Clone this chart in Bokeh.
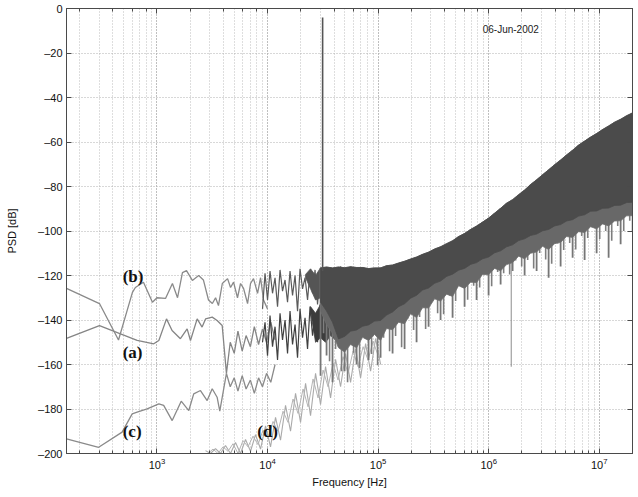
from bokeh.plotting import figure
from bokeh.models import (Range1d, LogAxis, LinearAxis, FixedTicker, LogTicker,
                          CustomJSTickFormatter, Label)
from bokeh.embed import file_html
from bokeh.resources import INLINE

# ---------------- data ----------------
y_ticks = [-200, -180, -160, -140, -120, -100, -80, -60, -40, -20, 0]

# curve (b) low-frequency part
b_f = [152, 302, 449, 600, 638, 755, 910, 1000, 1195, 1380, 1535, 1700, 1850, 2090, 2385,
       2630, 2925, 3170, 3390, 3600, 3900, 4350, 4630, 4930, 5350, 5700, 6070, 6600, 7020,
       7470, 8130, 8650, 9200, 10000]
b_db = [-125.8, -132.6, -149.0, -127.6, -125.4, -123.0, -132.0, -130.0, -130.3, -123.6, -130.0,
        -118.7, -117.8, -122.2, -120.0, -122.0, -131.0, -132.6, -130.0, -133.5, -123.6, -121.4,
        -125.4, -123.0, -130.0, -123.6, -125.8, -132.6, -123.6, -121.4, -128.0, -121.0, -131.0,
        -135.0]

# curve (a)
a_f = [152, 302, 468, 662, 935, 1040, 1220, 1370, 1630, 1875, 2010, 2310, 2560, 2750, 3160,
       3500, 3890, 4250, 4600, 5000, 5400, 5900, 6400, 7000, 7600, 8300, 9000, 9800, 10700, 11700]
a_db = [-148.3, -142.5, -146.2, -149.2, -150.7, -149.2, -139.5, -144.7, -148.4, -144.0, -149.2,
        -139.5, -143.2, -139.5, -138.7, -140.2, -142.5, -164.0, -150.0, -155.0, -145.0, -154.0,
        -147.0, -152.0, -143.0, -151.0, -144.0, -150.0, -141.0, -149.0]

# curve (c)
c_f = [152, 297, 484, 597, 662, 815, 1040, 1150, 1373, 1657, 1940, 2150, 2475, 2845, 3160,
       3500, 3700, 4250, 4600, 5000, 5400, 5900, 6400, 7000, 7600, 8300, 9000, 9800, 10700, 11700]
c_db = [-193.4, -197.2, -190.4, -182.2, -181.4, -179.9, -177.7, -178.4, -185.2, -176.5, -180.7,
        -173.2, -171.7, -176.2, -170.9, -174.7, -181.0, -164.0, -170.0, -166.0, -172.0, -165.0,
        -171.0, -167.0, -173.0, -166.0, -170.0, -164.0, -168.0, -160.0]

# curve (d), read on two interleaved frequency sets
d_f = [2748, 3050, 3383, 3755, 4168, 4626, 5134, 5697, 6324, 7018, 7789, 8644, 9592, 10645,
       11815, 13110, 14552, 16150, 17925, 19890, 22080, 24500, 27190, 30180, 33490, 37170,
       41250, 45780, 50810, 56390, 62580, 69450, 77080, 85540, 94940, 105400]
d_db = [-198.7, -200.0, -197.8, -200.0, -196.4, -200.0, -195.1, -200.0, -193.7, -199.0, -191.5,
        -198.0, -187.6, -197.0, -183.8, -194.0, -178.4, -190.0, -173.0, -186.0, -168.5, -183.0,
        -164.0, -178.0, -160.9, -175.0, -157.7, -170.0, -155.1, -168.0, -152.8, -166.0, -150.6,
        -163.0, -148.3, -160.0]
d2_f = [2894, 3212, 3565, 3956, 4391, 4873, 5408, 6002, 6661, 7393, 8204, 9106, 10104, 11214,
        12445, 13813, 15329, 17014, 18880, 20956, 23256, 25812, 28644, 31788, 35278, 39155,
        43451, 48226, 53516, 59397, 65914, 73158, 81183, 90110, 100000]
d2_db = [-200.0, -198.0, -200.0, -197.0, -199.0, -195.6, -200.0, -194.2, -197.0, -192.2, -196.0,
         -189.5, -193.0, -185.6, -190.0, -181.0, -186.0, -175.5, -182.0, -171.0, -179.0, -166.5,
         -175.0, -162.5, -170.0, -159.5, -167.0, -156.5, -164.0, -154.0, -161.0, -152.0, -158.0,
         -149.5, -156.0]

# dense noise of (b) and (a) between 9 kHz and 37 kHz
noise_f = [9010, 9493, 10000, 10534, 11097, 11693, 12318, 12978, 13669, 14403, 15171, 15981,
           16837, 17741, 18683, 19681, 20734, 21847, 23014, 24240, 25537, 26911, 28344, 29862,
           31457, 33144, 34914, 36777]
bnoise_db = [-135.0, -119.0, -131.0, -118.0, -128.0, -121.0, -134.0, -117.5, -127.0, -122.0,
             -132.0, -118.0, -129.0, -120.0, -136.0, -117.0, -126.0, -121.0, -131.0, -118.0,
             -128.0, -117.5, -133.0, -119.0, -127.0, -117.0, -130.0, -118.0]
anoise_db = [-150.0, -141.0, -156.0, -138.0, -152.0, -143.0, -158.0, -137.0, -149.0, -140.0,
             -155.0, -136.0, -151.0, -142.0, -157.0, -135.0, -148.0, -139.0, -153.0, -134.0,
             -147.0, -138.0, -150.0, -133.0, -146.0, -136.0, -149.0, -132.0]

# noise bands of (b) and (a) up to 100 kHz
bandb_f = [22080, 24500, 27190, 30180, 33490, 37170, 41250, 45780, 50810, 56390, 62580, 69450,
           77080, 85540, 94940, 105400]
bandb_top = [-119.5, -117.0, -120.0, -116.5, -119.0, -116.5, -118.5, -116.0, -118.0, -116.5,
             -118.5, -116.5, -118.0, -117.0, -117.5, -116.5]
bandb_bot = [-121.0, -126.0, -131.0, -130.0, -134.0, -131.0, -136.0, -132.0, -135.0, -131.0,
             -134.0, -132.0, -135.0, -131.0, -133.0, -130.0]
banda_f = [24500, 27190, 30180, 33490, 37170, 41250, 45780, 50810, 56390, 62580, 69450, 77080,
           85540, 94940, 105400]
banda_top = [-134.0, -137.0, -133.0, -135.0, -132.0, -134.0, -131.0, -133.0, -130.0, -132.0,
             -129.0, -131.0, -128.0, -130.0, -128.0]
banda_bot = [-136.0, -150.0, -148.0, -150.0, -147.0, -149.0, -146.0, -147.0, -145.0, -146.0,
             -143.0, -144.0, -142.0, -142.0, -140.0]

# the broad band above 30 kHz: upper edge, solid lower edge, grey fringe, lower spikes
main_f = [30180, 34200, 38700, 43900, 49800, 56400, 63900, 72400, 82000, 92900, 105300, 119300,
          135200, 153200, 173600, 196700, 222900, 252600, 286200, 324300, 367400, 416400, 471800,
          534600, 605800, 686500, 777900, 881400, 998700, 1132000, 1283000, 1453000, 1647000,
          1866000, 2115000, 2396000, 2715000, 3077000, 3486000, 3950000, 4476000, 5072000,
          5747000, 6512000, 7379000, 8361000, 9474000, 10735000, 12164000, 13783000, 15618000,
          17697000, 20053000]
main_top = [-116.6, -116.2, -116.6, -116.2, -116.5, -116.1, -116.4, -116.4, -116.9, -116.6,
            -116.6, -115.6, -115.3, -114.4, -113.6, -112.6, -111.7, -110.5, -109.5, -108.1,
            -107.1, -105.7, -104.4, -102.5, -101.1, -99.3, -97.8, -96.0, -94.2, -92.0, -89.8,
            -87.5, -85.9, -83.7, -81.6, -79.1, -77.0, -74.7, -72.5, -70.2, -68.1, -65.8, -63.7,
            -61.4, -59.6, -57.8, -56.2, -54.4, -52.8, -51.1, -49.8, -48.2, -46.9]
main_bot = [-132.0, -136.0, -141.0, -148.5, -147.4, -145.0, -144.5, -142.8, -142.2, -140.5,
            -140.2, -137.8, -136.4, -134.0, -132.7, -130.2, -128.9, -126.5, -125.6, -123.5,
            -122.5, -120.4, -119.4, -117.6, -116.8, -115.0, -114.2, -112.5, -111.7, -109.8,
            -108.9, -107.1, -106.2, -104.3, -103.5, -102.0, -101.4, -99.9, -99.3, -97.7, -97.1,
            -95.5, -94.9, -93.3, -92.7, -91.1, -91.0, -89.8, -89.7, -88.5, -88.4, -87.2, -87.1]
mid_bot = [-136.0, -142.0, -146.0, -152.5, -154.4, -151.0, -152.5, -147.8, -149.2, -146.5,
           -149.2, -143.8, -144.4, -141.0, -141.7, -137.2, -138.9, -134.5, -134.6, -130.5,
           -131.5, -128.4, -129.4, -124.6, -125.8, -123.0, -123.2, -119.5, -119.7, -116.8,
           -117.9, -115.1, -114.2, -111.3, -112.5, -110.0, -109.4, -106.9, -108.3, -105.7,
           -105.1, -102.5, -102.9, -100.3, -100.7, -98.1, -99.0, -96.8, -97.7, -95.5, -95.4,
           -93.2, -93.1]
spike_bot = [-165.0, -156.0, -168.0, -152.0, -163.0, -150.0, -160.0, -147.0, -158.0, -146.0,
             -157.0, -142.0, -155.0, -140.0, -153.0, -134.0, -150.0, -131.0, -143.0, -128.0,
             -140.0, -125.0, -139.0, -122.0, -134.0, -120.0, -131.0, -117.0, -129.0, -115.0,
             -124.0, -112.0, -118.0, -110.0, -120.0, -107.0, -118.0, -105.0, -121.0, -103.0,
             -116.0, -101.0, -112.0, -99.0, -113.0, -97.0, -110.0, -95.0, -112.0, -94.0,
             -106.0, -92.0, -100.0]
spike2_f = [32130, 36400, 41250, 46740, 52970, 60020, 68010, 77080, 87330, 98970, 112150, 127080,
            144000, 163180, 184920, 209530, 237440, 269100, 304900, 345500, 391500, 443700,
            502800, 569700, 645600, 731600, 829000, 939500, 1064500, 1206300, 1366900, 1548800,
            1755200, 1988900, 2253700, 2553900, 2894000, 3279000, 3716000, 4211000, 4772000,
            5408000, 6128000, 6944000, 7869000, 8917000, 10104000, 11449000, 12975000, 14703000,
            16660000, 18880000]
spike2_top = [-125.0, -125.0, -128.0, -130.0, -130.0, -130.0, -130.0, -130.0, -128.0, -128.0,
              -126.0, -125.0, -124.0, -122.0, -120.0, -118.0, -117.0, -116.0, -115.0, -113.0,
              -112.0, -110.0, -109.0, -108.0, -106.0, -105.0, -104.0, -103.0, -101.0, -100.0,
              -99.0, -97.0, -96.0, -95.0, -94.0, -93.0, -92.0, -91.0, -90.0, -89.0, -88.0,
              -87.0, -86.0, -85.0, -84.0, -83.0, -82.0, -81.0, -80.0, -79.0, -78.0, -77.0]
spike2_bot = [-146.0, -158.5, -153.0, -163.0, -168.0, -154.7, -161.6, -148.5, -155.3, -160.3,
              -148.0, -154.0, -147.2, -152.3, -139.4, -144.5, -138.7, -144.0, -131.8, -137.0,
              -137.4, -129.0, -131.5, -125.2, -130.9, -124.6, -125.4, -119.1, -124.8, -118.4,
              -119.0, -119.6, -113.3, -116.0, -113.0, -116.9, -109.9, -112.8, -114.7, -105.6,
              -108.5, -105.4, -108.3, -102.2, -103.2, -98.3, -103.6, -100.0, -104.4, -97.7,
              -100.0, -95.4]

# isolated lines: the carrier near 31.5 kHz and one deep dip near 1.6 MHz
tone_f = [31500]
tone_top = [-4.0]
tone_bot = [-118.0]
dip_f = [1600000]
dip_top = [-108.0]
dip_bot = [-161.0]

# ---------------- figure ----------------
p = figure(x_axis_type="log", x_range=Range1d(152, 2.0e7), y_range=Range1d(-200, 0),
           frame_width=566, frame_height=445,
           min_border_left=66, min_border_right=6, min_border_top=8, min_border_bottom=44,
           output_backend="svg", toolbar_location=None,
           background_fill_color="white", border_fill_color="white")

AXC = "#4a4a4a"
FONT = "Liberation Sans"

for ax in p.xaxis:
    ax.axis_label = "Frequency [Hz]"
for ax in p.yaxis:
    ax.axis_label = "PSD [dB]"
    ax.ticker = FixedTicker(ticks=y_ticks)
    ax.formatter = CustomJSTickFormatter(
        code="return tick < 0 ? '\\u2013' + Math.abs(tick) : String(tick)")

for ax in list(p.xaxis) + list(p.yaxis):
    ax.axis_line_color = AXC
    ax.major_tick_line_color = AXC
    ax.minor_tick_line_color = AXC
    ax.major_tick_in = 5
    ax.major_tick_out = 0
    ax.minor_tick_in = 3
    ax.minor_tick_out = 0
    ax.major_label_text_font = FONT
    ax.major_label_text_font_size = "11px"
    ax.major_label_text_color = "#111111"
    ax.axis_label_text_font = FONT
    ax.axis_label_text_font_size = "11px"
    ax.axis_label_text_font_style = "normal"
    ax.axis_label_text_color = "#111111"
    ax.major_label_standoff = 4
p.yaxis[0].axis_label_standoff = 17
p.xaxis[0].axis_label_standoff = 4

top_ax = LogAxis(ticker=LogTicker(), formatter=CustomJSTickFormatter(code="return ''"),
                 major_tick_in=5, major_tick_out=0, minor_tick_in=3, minor_tick_out=0,
                 axis_line_color=AXC, major_tick_line_color=AXC, minor_tick_line_color=AXC,
                 major_label_standoff=0, major_label_text_font_size="1px")
right_ax = LinearAxis(ticker=FixedTicker(ticks=y_ticks), formatter=CustomJSTickFormatter(code="return ''"),
                      major_tick_in=5, major_tick_out=0, minor_tick_in=0, minor_tick_out=0,
                      axis_line_color=AXC, major_tick_line_color=AXC,
                      major_label_standoff=0, major_label_text_font_size="1px")
p.add_layout(top_ax, "above")
p.add_layout(right_ax, "right")

p.outline_line_color = AXC
for g in (p.xgrid[0], p.ygrid[0]):
    g.grid_line_color = "#b0b0b0"
    g.grid_line_dash = "1 2"
    g.grid_line_width = 1
p.xgrid[0].minor_grid_line_color = "#bcbcbc"
p.xgrid[0].minor_grid_line_dash = "1 2"

# ---------------- curves ----------------
p.line(d_f, d_db, line_color="#aaaaaa", line_width=1.1)
p.line(d2_f, d2_db, line_color="#b4b4b4", line_width=1.0)
p.line(c_f, c_db, line_color="#8a8a8a", line_width=1.3)
p.line(a_f, a_db, line_color="#858585", line_width=1.3)
p.line(b_f, b_db, line_color="#8a8a8a", line_width=1.3)
p.line(noise_f, anoise_db, line_color="#404040", line_width=1.2)
p.line(noise_f, bnoise_db, line_color="#5a5a5a", line_width=1.2)

p.patch(banda_f + banda_f[::-1], banda_top + banda_bot[::-1],
        fill_color="#3c3c3c", line_color="#3c3c3c", line_width=0.8)
p.patch(bandb_f + bandb_f[::-1], bandb_top + bandb_bot[::-1],
        fill_color="#555555", line_color="#555555", line_width=0.8)

# spikes below the broad band
p.segment(x0=main_f, y0=main_top, x1=main_f, y1=spike_bot, line_color="#767676", line_width=1.8)
p.segment(x0=spike2_f, y0=spike2_top, x1=spike2_f, y1=spike2_bot, line_color="#7e7e7e", line_width=1.6)
p.segment(x0=dip_f, y0=dip_top, x1=dip_f, y1=dip_bot, line_color="#8c8c8c", line_width=1.0)

p.patch(main_f + main_f[::-1], main_top + mid_bot[::-1],
        fill_color="#686868", line_color="#6e6e6e", line_width=0.8)
p.patch(main_f + main_f[::-1], main_top + main_bot[::-1],
        fill_color="#4b4b4b", line_color="#4b4b4b", line_width=0.8)

p.segment(x0=tone_f, y0=tone_top, x1=tone_f, y1=tone_bot, line_color="#555555", line_width=1.6)

# ---------------- annotations ----------------
def tag(x, y, t):
    p.add_layout(Label(x=x, y=y, text=t, text_font="Liberation Serif", text_font_style="bold",
                       text_font_size="17px", text_baseline="middle", text_align="left",
                       text_color="#111111"))

tag(490, -120.4, "(b)")
tag(490, -154.8, "(a)")
tag(490, -190.1, "(c)")
tag(8075, -190.1, "(d)")

p.add_layout(Label(x=883000, y=-9.4, text="06-Jun-2002", text_font=FONT, text_font_size="10px",
                   text_baseline="middle", text_align="left", text_color="#222222"))

open("out.html", "w").write(file_html(p, INLINE))
